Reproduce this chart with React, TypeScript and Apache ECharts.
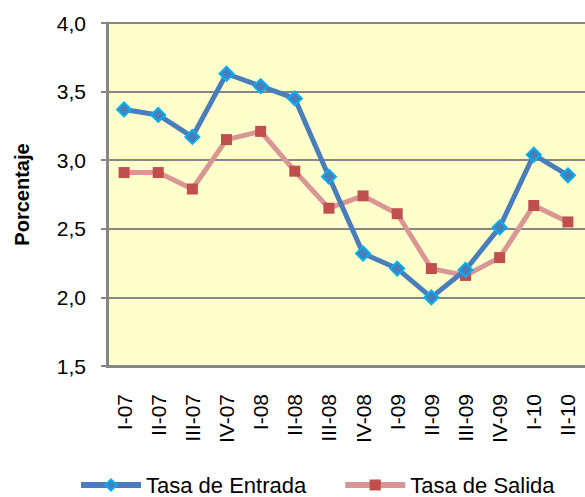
import React, { useEffect, useRef } from "react";
import * as echarts from "echarts";

const categories = ["I-07", "II-07", "III-07", "IV-07", "I-08", "II-08", "III-08", "IV-08", "I-09", "II-09", "III-09", "IV-09", "I-10", "II-10"];
const tasaEntrada = [3.37, 3.33, 3.17, 3.63, 3.54, 3.45, 2.88, 2.32, 2.21, 2.0, 2.2, 2.51, 3.04, 2.89];
const tasaSalida = [2.91, 2.91, 2.79, 3.15, 3.21, 2.92, 2.65, 2.74, 2.61, 2.21, 2.16, 2.29, 2.67, 2.55];
const yMin = 1.5;
const yMax = 4.0;
const yStep = 0.5;

const FONT = "'Liberation Sans', Arial, sans-serif";

export default function App() {
  const ref = useRef<HTMLDivElement>(null);
  useEffect(() => {
    if (!ref.current) return;
    const chart = echarts.init(ref.current, null, { renderer: "svg" });
    chart.setOption({
      animation: false,
      backgroundColor: "#ffffff",
      textStyle: { fontFamily: FONT },
      grid: {
        left: 107,
        top: 23,
        right: -3,
        bottom: 131,
        show: true,
        backgroundColor: "#FFFFCC",
        borderWidth: 0,
      },
      legend: {
        left: 73,
        top: 469,
        itemWidth: 60,
        itemHeight: 14,
        itemGap: 36,
        lineStyle: { width: 6 },
        textStyle: { fontFamily: FONT, fontSize: 22, color: "#000" },
        data: ["Tasa de Entrada", "Tasa de Salida"],
      },
      xAxis: {
        type: "category",
        data: categories,
        boundaryGap: true,
        axisLine: { show: true, lineStyle: { color: "#868686", width: 3 } },
        axisTick: { show: false },
        axisLabel: {
          rotate: 90,
          margin: 28,
          fontFamily: FONT,
          fontSize: 21,
          color: "#000",
          interval: 0,
        },
        splitLine: { show: false },
      },
      yAxis: {
        type: "value",
        min: yMin,
        max: yMax,
        interval: yStep,
        name: "Porcentaje",
        nameLocation: "middle",
        nameGap: 75,
        nameRotate: 90,
        nameTextStyle: { fontFamily: FONT, fontSize: 20, fontWeight: "bold", color: "#000" },
        axisLine: { show: true, lineStyle: { color: "#868686", width: 3 } },
        axisTick: { show: true, length: 6, lineStyle: { color: "#868686", width: 2 } },
        axisLabel: {
          margin: 21,
          fontFamily: FONT,
          fontSize: 21,
          color: "#000",
          formatter: (v: number) => v.toFixed(1).replace(".", ","),
        },
        splitLine: { show: true, lineStyle: { color: "#868686", width: 2 } },
      },
      series: [
        {
          name: "Tasa de Entrada",
          type: "line",
          data: tasaEntrada,
          symbol: "diamond",
          symbolSize: 14,
          lineStyle: { color: "#4A7EBB", width: 5 },
          itemStyle: { color: "#4A7EBB", borderColor: "#00B0F0", borderWidth: 2 },
          z: 3,
        },
        {
          name: "Tasa de Salida",
          type: "line",
          data: tasaSalida,
          symbol: "rect",
          symbolSize: 11,
          lineStyle: { color: "#D99694", width: 5 },
          itemStyle: { color: "#C0504D", borderColor: "#C0504D", borderWidth: 0 },
          z: 2,
        },
      ],
    });
    return () => chart.dispose();
  }, []);
  return (
    <div
      ref={ref}
      style={{ position: "fixed", left: 0, top: 0, width: 585, height: 497 }}
    />
  );
}
